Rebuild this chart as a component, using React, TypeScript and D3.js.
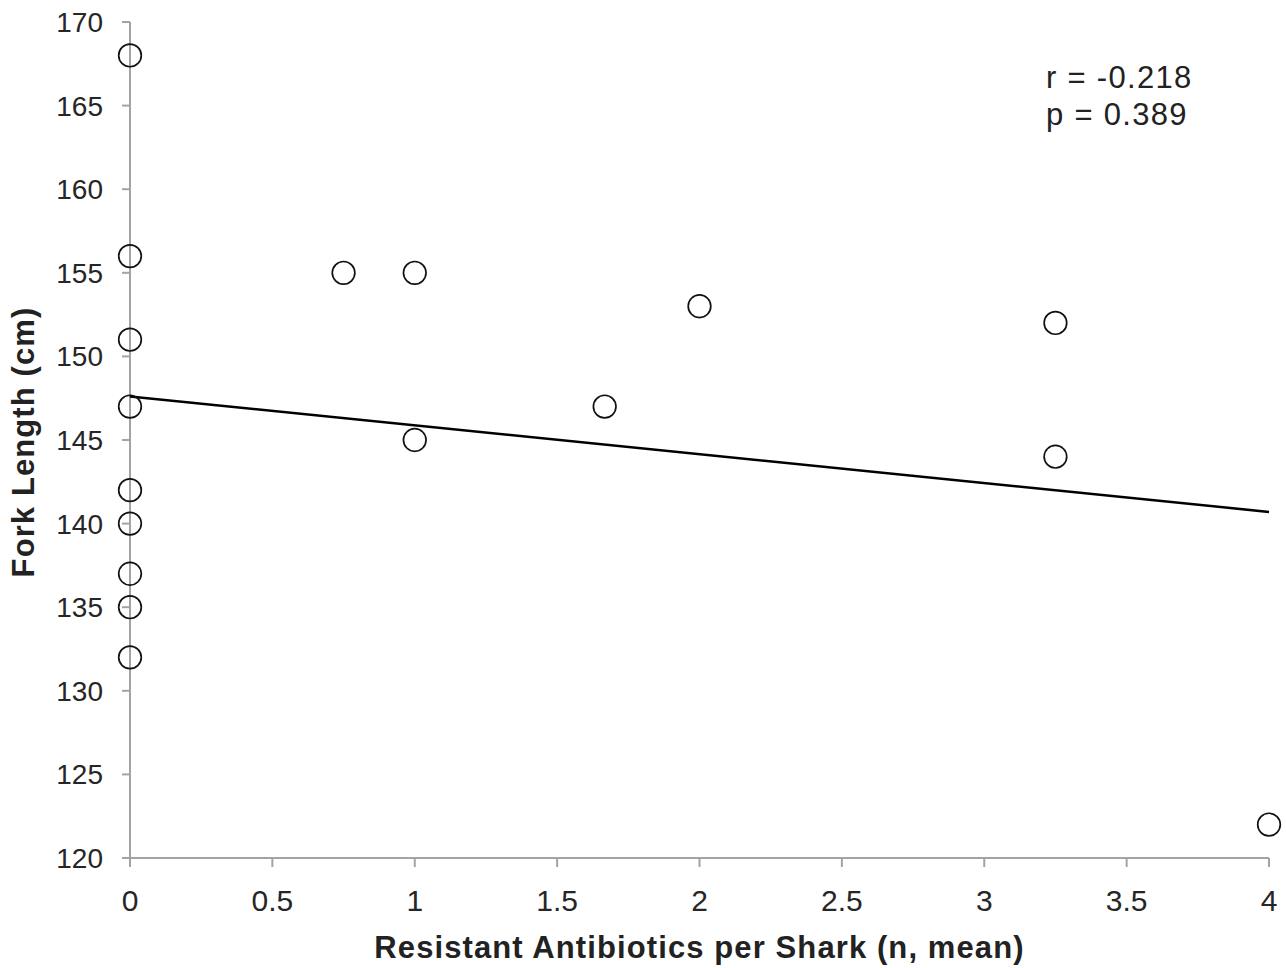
import React from 'react'
import { scaleLinear, line } from 'd3'

const xValues = [0, 0, 0, 0, 0, 0, 0, 0, 0, 0.75, 1, 1, 1.667, 2, 3.25, 3.25, 4]
const yValues = [168, 156, 151, 147, 142, 140, 137, 135, 132, 155, 155, 145, 147, 153, 152, 144, 122]
const xTicks = [0, 0.5, 1, 1.5, 2, 2.5, 3, 3.5, 4]
const yTicks = [120, 125, 130, 135, 140, 145, 150, 155, 160, 165, 170]
const trend = [
  { x: 0, y: 147.6 },
  { x: 4, y: 140.7 },
]
const statLines = ['r = -0.218', 'p = 0.389']

const App = () => {
  const width = 1286
  const height = 968
  const margin = { top: 22, right: 17, bottom: 110, left: 130 }
  const innerWidth = width - margin.left - margin.right
  const innerHeight = height - margin.top - margin.bottom

  const xScale = scaleLinear().domain([0, 4]).range([0, innerWidth])
  const yScale = scaleLinear().domain([120, 170]).range([innerHeight, 0])

  const trendLine = line<{ x: number; y: number }>()
    .x(d => xScale(d.x))
    .y(d => yScale(d.y))(trend)

  const axisColor = '#a3a3a3'
  const font = '"Liberation Sans", Arial, sans-serif'

  return (
    <svg width={width} height={height} style={{ position: 'absolute', left: 0, top: 0, background: '#fff' }} fontFamily={font}>
      <g transform={`translate(${margin.left},${margin.top})`}>
        {/* axes */}
        <line x1={0} x2={0} y1={0} y2={innerHeight} stroke={axisColor} strokeWidth={2} />
        <line x1={-8} x2={innerWidth} y1={innerHeight} y2={innerHeight} stroke={axisColor} strokeWidth={2} />

        {yTicks.map(t => (
          <g key={t} transform={`translate(0,${yScale(t)})`}>
            <line x1={-8} x2={0} stroke={axisColor} strokeWidth={2} />
            <text x={-27} dy='0.36em' textAnchor='end' fontSize={28} fill='#262626'>{t}</text>
          </g>
        ))}

        {xTicks.map(t => (
          <g key={t} transform={`translate(${xScale(t)},${innerHeight})`}>
            <line y1={0} y2={9} stroke={axisColor} strokeWidth={2} />
            <text y={53} textAnchor='middle' fontSize={30} fill='#262626'>{t}</text>
          </g>
        ))}

        <path d={trendLine ?? ''} fill='none' stroke='#000' strokeWidth={2.5} />

        {xValues.map((x, i) => (
          <circle key={i} cx={xScale(x)} cy={yScale(yValues[i])} r={11.3} fill='none' stroke='#111' strokeWidth={1.7} />
        ))}

        {statLines.map((s, i) => (
          <text key={s} x={916} y={66 + i * 37} fontSize={31} letterSpacing={1.3} fill='#222'>{s}</text>
        ))}
      </g>

      <text
        transform={`translate(34,${margin.top + innerHeight / 2 + 2}) rotate(-90)`}
        textAnchor='middle'
        fontSize={31}
        letterSpacing={1.1}
        fontWeight='bold'
        fill='#222'
      >Fork Length (cm)</text>
      <text
        x={margin.left + innerWidth / 2}
        y={958}
        textAnchor='middle'
        fontSize={31}
        letterSpacing={1.1}
        fontWeight='bold'
        fill='#222'
      >
        Resistant Antibiotics per Shark (n, mean)
      </text>
    </svg>
  )
}

export default App
